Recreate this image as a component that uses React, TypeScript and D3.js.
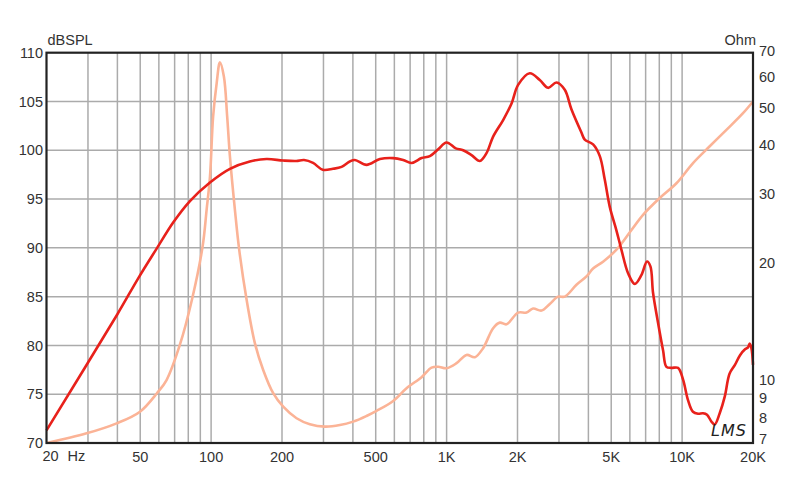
import React from 'react';
import * as d3 from 'd3';

// SPL response (Hz, dB)
const splFreq = [20, 40, 49.1, 58.9, 69, 81.3, 98.9, 120.2, 146, 172, 202, 230, 248, 271, 298, 329, 358, 388, 408, 457, 521, 593, 654, 710, 783, 849, 921, 999, 1094, 1175, 1276, 1384, 1477, 1576, 1738, 1887, 2012, 2254, 2487, 2698, 2928, 3175, 3388, 3740, 3860, 4188, 4472, 4694, 4930, 5260, 5526, 5896, 6296, 6714, 7096, 7336, 7526, 7906, 8300, 8580, 9008, 9610, 10094, 10594, 11118, 11686, 12270, 12758, 13320, 13756, 14444, 15172, 15900, 16760, 17620, 18500, 19048, 19360, 19700, 20000];
const splDb = [71.3, 83.2, 86.9, 89.97, 92.6, 94.8, 96.7, 98.1, 98.85, 99.1, 98.95, 98.9, 99.0, 98.7, 98.0, 98.1, 98.3, 98.85, 99.0, 98.5, 99.1, 99.2, 99.0, 98.7, 99.2, 99.4, 100.1, 100.8, 100.2, 100.0, 99.5, 98.9, 99.7, 101.4, 103.1, 104.8, 106.7, 107.9, 107.2, 106.4, 106.95, 106.2, 104.2, 101.8, 101.1, 100.6, 99.4, 97.0, 94.2, 91.8, 89.8, 87.4, 86.3, 87.2, 88.6, 88.1, 85.4, 82.3, 79.5, 77.8, 77.7, 77.7, 76.5, 74.4, 73.2, 73.0, 73.05, 72.9, 72.2, 71.9, 73.05, 74.75, 77.1, 78.0, 79.0, 79.6, 79.8, 80.2, 79.7, 78.0];

// Impedance (Hz, Ohm)
const impFreq = [20, 29.6, 39.7, 49.9, 58.9, 64.7, 73.7, 82.9, 92, 95.7, 98.9, 102, 105.6, 109, 113.3, 117, 120.2, 126.2, 131.6, 141.5, 153.5, 166.4, 183.5, 202.4, 230.6, 262.6, 304.2, 352.2, 401, 457, 504, 593, 676, 783, 863, 921, 999, 1102, 1215, 1318, 1429, 1576, 1682, 1796, 2012, 2184, 2330, 2530, 2742, 2974, 3175, 3560, 3926, 4188, 4616, 5264, 6096, 6826, 8036, 9460, 11128, 13100, 15420, 18140, 20000];
const impOhm = [7.0, 7.41, 7.86, 8.42, 9.39, 10.15, 12.5, 16.3, 22.3, 27.7, 33.7, 48.1, 58.5, 66.1, 60.8, 48.1, 37.96, 27.7, 21.9, 16.3, 12.6, 10.77, 9.39, 8.67, 8.1, 7.82, 7.71, 7.78, 7.94, 8.21, 8.46, 8.97, 9.67, 10.32, 10.92, 10.98, 10.88, 11.21, 11.77, 11.61, 12.25, 13.78, 14.24, 14.1, 15.11, 15.11, 15.47, 15.29, 15.9, 16.6, 16.6, 17.8, 18.7, 19.6, 20.4, 21.9, 24.6, 26.9, 29.7, 32.4, 36.5, 40.3, 44.4, 49.0, 52.5];

const dbTicks = [70, 75, 80, 85, 90, 95, 100, 105, 110];
const ohmTicks = [7, 8, 9, 10, 20, 30, 40, 50, 60, 70];
const freqGrid = [30, 40, 50, 60, 70, 80, 90, 100, 200, 300, 400, 500, 600, 700, 800, 900, 1000, 2000, 3000, 4000, 5000, 6000, 7000, 8000, 9000, 10000];
const freqTicks = [50, 100, 200, 500, 1000, 2000, 5000, 10000, 20000];
const freqTickLabels = ['50', '100', '200', '500', '1K', '2K', '5K', '10K', '20K'];

const W = 800;
const H = 484;
const L = 46.5;
const R = 753;
const T = 52.7;
const B = 443;

export default function App() {
  const x = d3.scaleLog().domain([20, 20000]).range([L, R]);
  const y = d3.scaleLinear().domain([70, 110]).range([B, T]);
  const yz = d3.scaleLog().domain([7, 70]).range([B, T]);

  const splLine = d3
    .line<number>()
    .x((_, i) => x(splFreq[i]))
    .y((d) => y(d))
    .curve(d3.curveCatmullRom.alpha(0.5));
  const impLine = d3
    .line<number>()
    .x((_, i) => x(impFreq[i]))
    .y((d) => yz(d))
    .curve(d3.curveCatmullRom.alpha(0.5));

  const font = '"Liberation Sans", Arial, sans-serif';
  const gridColor = '#ababab';

  return (
    <svg width={W} height={H} style={{ position: 'absolute', left: 0, top: 0, background: '#fff' }}>
      <rect width={W} height={H} fill="#fff" />
      <g>
        {freqGrid.map((f) => (
          <line key={'v' + f} x1={x(f)} x2={x(f)} y1={T} y2={B} stroke={gridColor} strokeWidth={1.5} />
        ))}
        {dbTicks.slice(1, -1).map((d) => (
          <line key={'h' + d} x1={L} x2={R} y1={y(d)} y2={y(d)} stroke={gridColor} strokeWidth={1.5} />
        ))}
      </g>
      <path d={impLine(impOhm) || ''} fill="none" stroke="#fbb396" strokeWidth={2.6} strokeLinejoin="round" />
      <path d={splLine(splDb) || ''} fill="none" stroke="#e8211b" strokeWidth={2.6} strokeLinejoin="round" />
      <rect x={L} y={T} width={R - L} height={B - T} fill="none" stroke="#222" strokeWidth={2.2} />

      <g fontFamily={font} fontSize={14.5} fill="#333">
        {dbTicks.map((d) => (
          <text key={'dl' + d} x={43} y={y(d)} dy="0.36em" textAnchor="end">
            {d}
          </text>
        ))}
        {ohmTicks.map((o) => (
          <text key={'ol' + o} x={759} y={yz(o) - (o === 7 ? 2 : 0)} dy="0.2em" textAnchor="start">
            {o}
          </text>
        ))}
        <text x={L + 1} y={45} textAnchor="start">dBSPL</text>
        <text x={756} y={45} textAnchor="end">Ohm</text>
        <text x={x(20) - 4} y={461} textAnchor="start">20</text>
        <text x={x(20) + 21} y={461} textAnchor="start">Hz</text>
        {freqTicks.map((f, i) => (
          <text key={'fl' + f} x={x(f)} y={462} textAnchor="middle">
            {freqTickLabels[i]}
          </text>
        ))}
      </g>
      <text
        x={711}
        y={436}
        fontFamily='"DejaVu Sans", sans-serif'
        fontStyle="italic"
        fontSize={16}
        fill="#222"
        letterSpacing={1}
      >
        LMS
      </text>
    </svg>
  );
}
